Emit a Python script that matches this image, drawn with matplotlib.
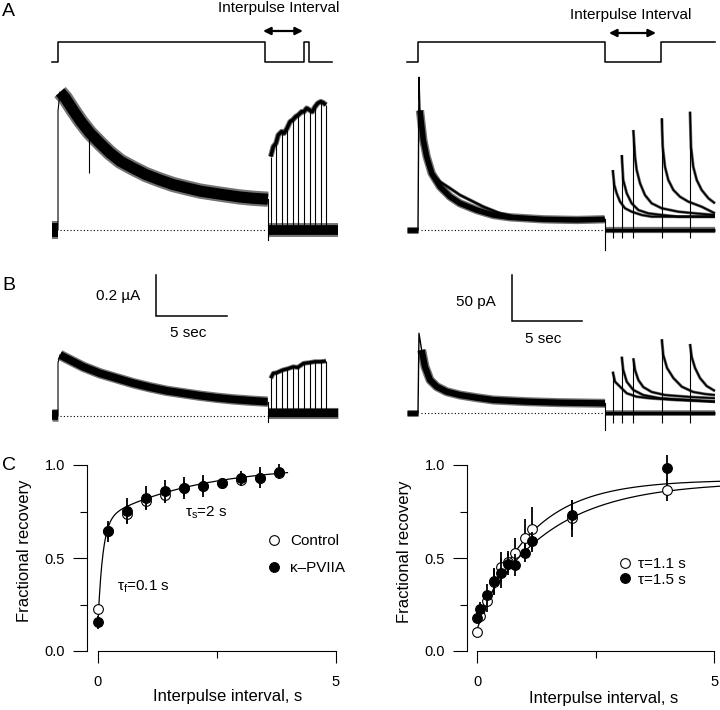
import numpy as np
import matplotlib.pyplot as plt
from matplotlib.lines import Line2D

plt.rcParams['font.family'] = ['Liberation Sans', 'DejaVu Sans']
plt.rcParams['mathtext.fontset'] = 'custom'
plt.rcParams['mathtext.rm'] = 'Liberation Sans'
plt.rcParams['mathtext.it'] = 'Liberation Sans:italic'

W, H = 720, 710

# --- voltage protocols (0 = holding, 1 = depolarised), time in s ---
prot_left_t = [-0.42, 0.0, 14.58, 17.32, 17.68, 19.3]
prot_left_v = [0, 1, 0, 1, 0, 0]
prot_right_t = [-0.79, 0.0, 13.36, 17.36, 21.2]
prot_right_v = [0, 1, 0, 1, 1]
interval_left = (14.44, 17.25)
interval_right = (13.64, 17.0)

# --- left column traces (uA) ---
left_pre_t = -0.42
left_off_t = 14.79
left_end_t = 19.7
a_left_t = [0.14, 0.5, 1.06, 1.6, 2.25, 3.0, 3.66, 4.4, 5.28, 6.2, 7.18, 8.1,
            9.08, 10.0, 10.92, 11.9, 12.82, 13.7, 14.58, 14.79]
a_left_i = [0.673, 0.645, 0.585, 0.53, 0.473, 0.42, 0.376, 0.335, 0.302, 0.27,
            0.244, 0.222, 0.205, 0.19, 0.18, 0.17, 0.161, 0.155, 0.151, 0.15]
a_left_spike_t = [2.18]
a_left_spike_i = [0.278]
left_pulse_t = [14.98, 15.35, 15.75, 16.13, 16.53, 16.92, 17.32, 17.72, 18.10, 18.50, 18.87]
a_left_env_t = [14.98, 15.16, 15.35, 15.51, 15.75, 15.92, 16.13, 16.34, 16.53, 16.74, 16.92,
                17.16, 17.32, 17.51, 17.72, 17.91, 18.10, 18.29, 18.50, 18.68, 18.87]
a_left_env_i = [0.358, 0.406, 0.423, 0.463, 0.480, 0.472, 0.496, 0.528, 0.537, 0.553, 0.561,
                0.577, 0.577, 0.594, 0.585, 0.577, 0.601, 0.618, 0.626, 0.621, 0.610]

b_left_t = [0.14, 0.61, 1.78, 2.96, 4.13, 5.30, 6.48, 7.65, 8.82, 10.0, 11.18, 12.35, 13.52, 14.70, 14.77]
b_left_i = [0.298, 0.281, 0.240, 0.208, 0.184, 0.160, 0.140, 0.123, 0.111, 0.099, 0.089,
            0.081, 0.075, 0.070, 0.07]
b_left_env_t = [14.98, 15.16, 15.40, 15.82, 16.25, 16.57, 16.88, 17.30, 17.68, 18.10, 18.50, 18.87]
b_left_env_i = [0.184, 0.208, 0.211, 0.224, 0.232, 0.240, 0.237, 0.257, 0.260, 0.265, 0.265, 0.268]

# --- right column traces (pA) ---
right_pre_t = -0.79
right_off_t = 13.36
right_end_t = 21.21
right_pulse_t = [13.91, 14.55, 15.38, 17.41, 19.43]

a_right_peak = 166
a_right_t = [0.14, 0.38, 0.62, 0.98, 1.57, 2.29, 3.0, 4.19, 5.38, 6.57, 8.95, 11.34, 13.24, 13.36]
a_right_i = [130, 97.8, 79.7, 61.6, 47.1, 36.2, 29.0, 21.7, 16.3, 13.8, 11.6, 10.9, 11.6, 12]
a_right_alt_t = [0.98, 1.57, 2.29, 3.0, 3.71, 4.67, 5.86, 6.81]
a_right_alt_i = [61.6, 52.5, 45.3, 38.0, 32.6, 25.3, 18.1, 14.5]
a_right_off_dip = -21.7
a_right_tail_t = [[13.91, 14.02, 14.19, 14.43, 14.79, 15.26, 15.98, 16.69, 18.57, 21.21],
                  [14.55, 14.66, 14.91, 15.26, 15.74, 16.45, 17.41, 18.59, 21.21],
                  [15.38, 15.5, 15.62, 15.86, 16.21, 16.69, 17.41, 18.59, 19.79, 21.21],
                  [17.41, 17.48, 17.64, 17.88, 18.24, 18.71, 19.31, 20.26, 21.21],
                  [19.43, 19.5, 19.66, 19.91, 20.26, 20.74, 21.21]]
a_right_tail_i = [[65.2, 48.9, 39.9, 30.8, 23.6, 19.9, 16.3, 14.5, 14.5, 14.5],
                  [81.5, 54.3, 39.9, 29.0, 21.7, 18.1, 16.3, 14.5, 14.5],
                  [108.7, 79.7, 65.2, 50.8, 38.0, 29.0, 23.6, 19.9, 18.1, 16.3],
                  [121.4, 90.5, 68.8, 54.3, 43.5, 36.2, 30.8, 25.3, 18.1],
                  [128.6, 90.5, 68.8, 54.3, 43.5, 34.5, 29.0]]

b_right_peak = 86.3
b_right_t = [0.26, 0.5, 0.86, 1.34, 2.05, 3.0, 4.19, 5.38, 7.76, 10.14, 13.36]
b_right_i = [68.2, 50.0, 35.5, 28.3, 22.8, 19.2, 16.3, 13.8, 12.0, 10.9, 10.2]
b_right_off_dip = -18.8
b_right_tail_t = [[13.91, 14.07, 14.43, 14.91, 15.62, 16.57, 18.48, 21.21],
                  [14.55, 14.66, 14.91, 15.38, 16.09, 17.29, 19.43, 21.21],
                  [15.38, 15.5, 15.74, 16.09, 16.69, 17.64, 19.43, 21.21],
                  [17.41, 17.52, 17.79, 18.24, 18.84, 19.66, 20.5, 21.21],
                  [19.43, 19.55, 19.79, 20.14, 20.62, 21.21]]
b_right_tail_i = [[44.6, 33.7, 28.3, 21.1, 17.4, 15.7, 13.8, 12.0],
                  [60.9, 46.4, 33.7, 24.7, 19.2, 15.7, 13.8, 12.0],
                  [59.1, 46.4, 35.5, 27.9, 22.5, 19.2, 17.1, 15.7],
                  [79.8, 62.7, 48.6, 37.7, 28.3, 22.5, 20.3, 19.2],
                  [74.7, 60.5, 48.6, 37.7, 29.0, 23.6]]

# --- panel C, left: double exponential recovery ---
c1_x = [0, 0.2, 0.6, 1.0, 1.4, 1.8, 2.2, 2.6, 3.0, 3.4, 3.8]
c1_ctrl = [0.224, 0.643, 0.737, 0.806, 0.837, 0.875, 0.887, 0.905, 0.919, 0.932, 0.955]
c1_ctrl_err = [0.02, 0.04, 0.05, 0.04, 0.04, 0.04, 0.04, 0.02, 0.03, 0.04, 0.03]
c1_pviia = [0.154, 0.643, 0.753, 0.824, 0.860, 0.875, 0.887, 0.905, 0.928, 0.932, 0.964]
c1_pviia_err = [0.035, 0.055, 0.07, 0.065, 0.06, 0.06, 0.06, 0.02, 0.04, 0.055, 0.04]
tau_f, amp_f = 0.1, 0.55
tau_s, amp_s = 2.0, 0.30
c1_fit_end = 3.98

# --- panel C, right: single exponential recovery ---
c2_x = [0.0, 0.05, 0.2, 0.35, 0.5, 0.65, 0.8, 1.0, 1.15, 2.0, 4.0]
c2_open = [0.104, 0.19, 0.27, 0.37, 0.45, 0.48, 0.525, 0.61, 0.654, 0.713, 0.866]
c2_open_err = [0.01, 0.03, 0.06, 0.07, 0.08, 0.06, 0.08, 0.10, 0.12, 0.10, 0.06]
c2_fill = [0.179, 0.224, 0.30, 0.378, 0.418, 0.468, 0.462, 0.528, 0.591, 0.731, 0.986]
c2_fill_err = [0.03, 0.04, 0.06, 0.07, 0.08, 0.06, 0.06, 0.05, 0.05, 0.08, 0.07]
fit_open = dict(tau=1.1, top=0.92, start=0.12)
fit_fill = dict(tau=1.5, top=0.91, start=0.18)
c2_fit_end = 5.12

fig = plt.figure(figsize=(7.2, 7.1), dpi=100)


def px_axes(x0, y0, x1, y1):
    ax = fig.add_axes([x0 / W, 1 - y1 / H, (x1 - x0) / W, (y1 - y0) / H])
    ax.patch.set_alpha(0)
    return ax


def trace_axes(x0, y0, x1, y1, t0_px, px_s, base_py, px_unit):
    # blank axes whose scale is the recording's time / current
    ax = px_axes(x0, y0, x1, y1)
    ax.set_axis_off()
    ax.set_xlim((x0 - t0_px) / px_s, (x1 - t0_px) / px_s)
    ax.set_ylim((base_py - y1) / px_unit, (base_py - y0) / px_unit)
    return ax


def band(ax, t, i, lw_out, lw_core):
    # noisy trace drawn as a soft-edged thick line
    ax.plot(t, i, color='k', lw=lw_out, alpha=0.55, solid_capstyle='butt', solid_joinstyle='round')
    ax.plot(t, i, color='k', lw=lw_core, solid_capstyle='butt', solid_joinstyle='round')


def thin(ax, t, i, lw=0.8):
    ax.plot(t, i, color='k', lw=lw)


dots = (0, (1, 2))

# ================= A / B left =================
ax = trace_axes(40, 0, 345, 80, 58, 14.2, 62, 20)
ax.set_ylim(-0.9, 3.1)
ax.plot(prot_left_t, prot_left_v, color='k', lw=1.1, drawstyle='steps-post')
ax.annotate('', xy=(interval_left[1], 1.55), xytext=(interval_left[0], 1.55),
            arrowprops=dict(arrowstyle='<|-|>', color='k', lw=1.6, mutation_scale=11,
                            shrinkA=0, shrinkB=0))
ax.text(15.56, 2.7, 'Interpulse Interval', ha='center', va='center', fontsize=11)

ax = trace_axes(40, 70, 345, 250, 58, 14.2, 230, 205)
band(ax, [left_pre_t, 0], [0, 0], 13, 10)
thin(ax, [0, 0, a_left_t[0]], [0, 0.58, a_left_i[0]])
band(ax, a_left_t, a_left_i, 11, 8)
ax.vlines(a_left_spike_t, a_left_spike_i, np.interp(a_left_spike_t, a_left_t, a_left_i), color='k', lw=0.8)
thin(ax, [left_off_t, left_off_t], [a_left_i[-1], -0.05])
band(ax, [left_off_t, left_end_t], [0, 0], 10, 7)
ax.vlines(left_pulse_t, -0.02, np.interp(left_pulse_t, a_left_env_t, a_left_env_i), color='k', lw=0.8)
band(ax, a_left_env_t, a_left_env_i, 4, 2.5)
ax.plot([0.14, 14.65], [0, 0], color='k', lw=0.8, ls=dots)

ax = trace_axes(40, 262, 345, 432, 58, 14.2, 416, 205)
band(ax, [left_pre_t, 0], [0.005, 0.005], 9, 7)
thin(ax, [0, 0, b_left_t[0]], [0, 0.26, b_left_i[0]])
band(ax, b_left_t, b_left_i, 7.5, 5.5)
thin(ax, [b_left_t[-1], b_left_t[-1]], [b_left_i[-1], -0.03])
band(ax, [b_left_t[-1], left_end_t], [0.013, 0.013], 8, 6)
ax.vlines(left_pulse_t, 0, np.interp(left_pulse_t, b_left_env_t, b_left_env_i), color='k', lw=0.8)
band(ax, b_left_env_t, b_left_env_i, 3.5, 2.2)
ax.plot([0.14, 14.7], [0, 0], color='k', lw=0.8, ls=dots)
# scale bar 5 s / 0.2 uA
ax.plot([6.9, 6.9, 11.9], [0.688, 0.488, 0.488], color='k', lw=1.1, solid_joinstyle='miter')
ax.text(5.77, 0.585, '0.2 µA', ha='right', va='center', fontsize=11)
ax.text(9.15, 0.405, '5 sec', ha='center', va='center', fontsize=11)

# ================= A / B right =================
ax = trace_axes(400, 0, 720, 80, 418, 14.0, 62, 20)
ax.set_ylim(-0.9, 3.1)
ax.plot(prot_right_t, prot_right_v, color='k', lw=1.1, drawstyle='steps-post')
ax.annotate('', xy=(interval_right[1], 1.45), xytext=(interval_right[0], 1.45),
            arrowprops=dict(arrowstyle='<|-|>', color='k', lw=1.6, mutation_scale=11,
                            shrinkA=0, shrinkB=0))
ax.text(15.2, 2.35, 'Interpulse Interval', ha='center', va='center', fontsize=11)

ax = trace_axes(400, 60, 720, 255, 418, 14.0, 230, 0.92)
band(ax, [right_pre_t, 0], [0, 0], 5, 3.5)
thin(ax, [0, 0.07, a_right_t[0]], [0, a_right_peak, a_right_i[0]], lw=1.0)
band(ax, a_right_t, a_right_i, 6, 4)
band(ax, a_right_alt_t, a_right_alt_i, 2.5, 1.5)
thin(ax, [right_off_t, right_off_t], [a_right_i[-1], a_right_off_dip])
band(ax, [right_off_t, right_end_t], [0, 0], 4.5, 2.5)
ax.vlines(right_pulse_t, -8.7, [tail[0] for tail in a_right_tail_i], color='k', lw=0.8)
for tt, ii in zip(a_right_tail_t, a_right_tail_i):
    band(ax, tt, ii, 2.2, 1.2)
ax.plot([0.2, 13.3], [0, 0], color='k', lw=0.8, ls=dots)

ax = trace_axes(400, 262, 720, 440, 418, 14.0, 412.7, 0.92)
band(ax, [right_pre_t, 0], [0, 0], 5, 3.5)
thin(ax, [0, 0.07, b_right_t[0]], [0, b_right_peak, b_right_i[0]], lw=1.0)
band(ax, b_right_t, b_right_i, 6.5, 4.5)
thin(ax, [right_off_t, right_off_t], [b_right_i[-1], b_right_off_dip])
band(ax, [right_off_t, right_end_t], [0, 0], 4, 2.5)
ax.vlines(right_pulse_t, -11.5, [tail[0] for tail in b_right_tail_i], color='k', lw=0.8)
for tt, ii in zip(b_right_tail_t, b_right_tail_i):
    band(ax, tt, ii, 2.2, 1.2)
ax.plot([0.2, 13.3], [0, 0], color='k', lw=0.8, ls=dots)
# scale bar 5 s / 50 pA
ax.plot([6.71, 6.71, 11.71], [149.7, 99.7, 99.7], color='k', lw=1.1, solid_joinstyle='miter')
ax.text(5.57, 120.7, '50 pA', ha='right', va='center', fontsize=11)
ax.text(8.93, 80, '5 sec', ha='center', va='center', fontsize=11)


# ================= C =================
def style_c(ax):
    for s in ['top', 'right']:
        ax.spines[s].set_visible(False)
    for s in ['left', 'bottom']:
        ax.spines[s].set_linewidth(0.8)
    ax.spines['left'].set_bounds(0, 1)
    ax.spines['bottom'].set_bounds(0, 5)
    ax.set_ylim(0, 1.1)
    ax.set_yticks([0, 0.5, 1.0])
    ax.set_yticklabels(['0.0', '0.5', '1.0'])
    ax.set_yticks([0.25, 0.75], minor=True)
    ax.set_xticks([0, 5])
    ax.set_xticks([2.5], minor=True)
    ax.tick_params(axis='y', which='major', length=10, width=0.8, pad=6, labelsize=10.5)
    ax.tick_params(axis='y', which='minor', length=5, width=0.8)
    ax.tick_params(axis='x', which='major', length=8.6, width=0.8, pad=9, labelsize=10.5)
    ax.tick_params(axis='x', which='minor', length=5, width=0.8)


open_kw = dict(fmt='o', ms=7, mfc='white', mec='k', mew=0.8, ecolor='k', elinewidth=1.3,
               capsize=0, clip_on=False)
fill_kw = dict(fmt='o', ms=7, mfc='k', mec='k', mew=0.8, ecolor='k', elinewidth=1.3,
               capsize=0, clip_on=False)

ax = px_axes(87, 446.4, 342, 651)
ax.set_xlim(-0.231, 5.126)
style_c(ax)
t = np.linspace(0, c1_fit_end, 300)
ax.plot(t, 1 - amp_f * np.exp(-t / tau_f) - amp_s * np.exp(-t / tau_s), color='k', lw=0.9)
ax.errorbar(c1_x, c1_ctrl, yerr=c1_ctrl_err, zorder=3, **open_kw)
ax.errorbar(c1_x, c1_pviia, yerr=c1_pviia_err, zorder=4, **fill_kw)
ax.text(1.83, 0.742, r'$\mathregular{τ_s}$=2 s', ha='left', va='center', fontsize=11)
ax.text(0.40, 0.344, r'$\mathregular{τ_f}$=0.1 s', ha='left', va='center', fontsize=11)
h_open = Line2D([], [], marker='o', ls='none', ms=7, mfc='white', mec='k', mew=0.8)
h_fill = Line2D([], [], marker='o', ls='none', ms=7, mfc='k', mec='k', mew=0.8)
ax.legend([h_open, h_fill], ['Control', 'κ–PVIIA'], loc='upper left',
          bbox_to_anchor=(0.709, 0.570), frameon=False, fontsize=11, borderpad=0,
          borderaxespad=0, handlelength=0.8, handletextpad=0.65, labelspacing=0.82)

ax = px_axes(467, 446.4, 720, 651)
ax.set_xlim(-0.217, 5.12)
style_c(ax)
t = np.linspace(0, c2_fit_end, 300)
for f in (fit_open, fit_fill):
    ax.plot(t, f['top'] - (f['top'] - f['start']) * np.exp(-t / f['tau']), color='k', lw=0.9)
ax.errorbar(c2_x, c2_open, yerr=c2_open_err, zorder=3, **open_kw)
ax.errorbar(c2_x, c2_fill, yerr=c2_fill_err, zorder=4, **fill_kw)
ax.legend([h_open, h_fill], ['τ=1.1 s', 'τ=1.5 s'], loc='upper left',
          bbox_to_anchor=(0.600, 0.460), frameon=False, fontsize=11, borderpad=0,
          borderaxespad=0, handlelength=0.8, handletextpad=0.45, labelspacing=0.12)

# axis labels
for x, y in [(228, 697), (604, 699)]:
    fig.text(x / W, 1 - y / H, 'Interpulse interval, s', ha='center', va='center', fontsize=12)
for x, y in [(25, 551), (405, 552)]:
    fig.text(x / W, 1 - y / H, 'Fractional recovery', ha='center', va='center',
             fontsize=12, rotation=90)

# panel letters
for letter, y in [('A', 11), ('B', 285), ('C', 466)]:
    fig.text(2 / W, 1 - y / H, letter, ha='left', va='center', fontsize=14)

fig.savefig('out.png', dpi=100)
